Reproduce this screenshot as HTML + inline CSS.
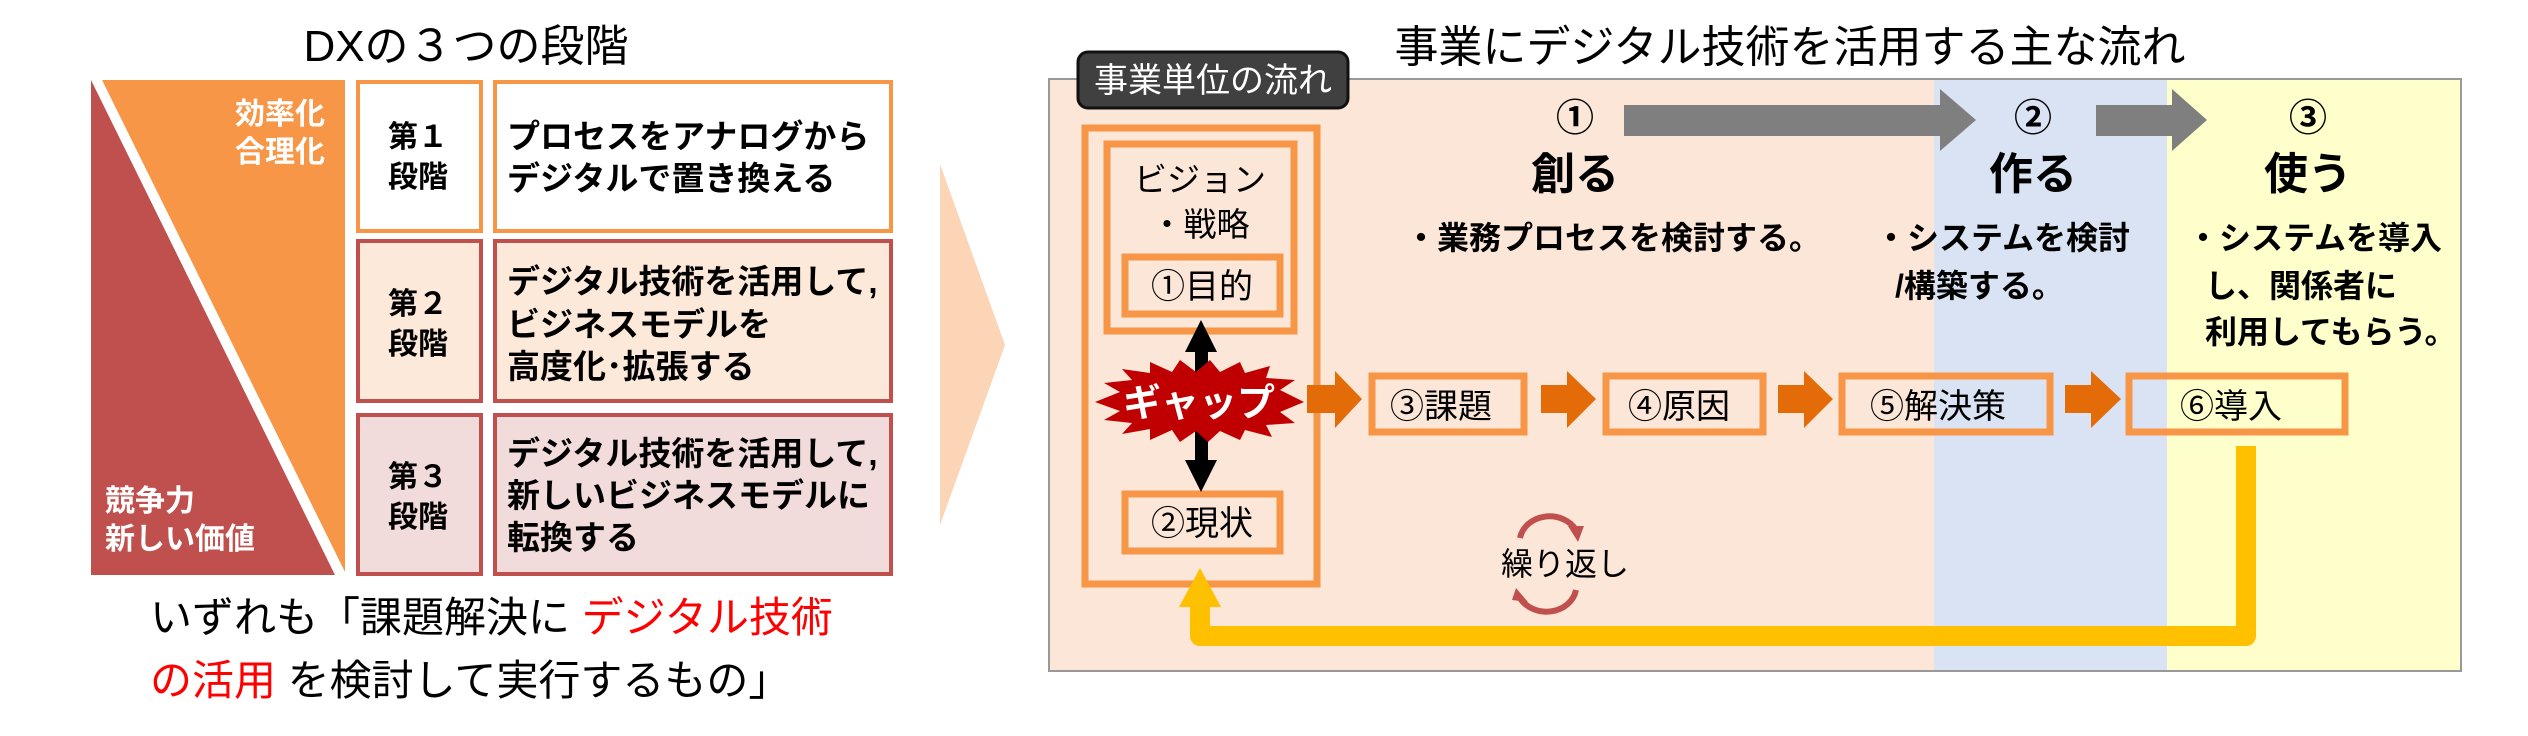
<!DOCTYPE html>
<html><head><meta charset="utf-8"><style>
html,body{margin:0;padding:0;background:#fff;}
svg{display:block;}
text{font-family:"Liberation Sans","Noto Sans CJK JP",sans-serif;}
.b{font-weight:bold;}
</style></head><body>
<svg width="2528" height="736" viewBox="0 0 2528 736" xmlns="http://www.w3.org/2000/svg">
<!-- LEFT -->
<text x="466" y="61" font-size="44" text-anchor="middle" fill="#000">DXの３つの段階</text>
<polygon points="91,80 335,575 91,575" fill="#c0504d"/>
<polygon points="102,80 345,80 345,572" fill="#f79646"/>
<text x="325" y="124" font-size="30" class="b" fill="#fff" text-anchor="end">効率化</text>
<text x="325" y="162" font-size="30" class="b" fill="#fff" text-anchor="end">合理化</text>
<text x="105" y="511" font-size="30" class="b" fill="#fff">競争力</text>
<text x="105" y="549" font-size="30" class="b" fill="#fff">新しい価値</text>

<rect x="358" y="82" width="123" height="149" fill="#fff" stroke="#f79646" stroke-width="4"/>
<rect x="495" y="82" width="396" height="149" fill="#fff" stroke="#f79646" stroke-width="4"/>
<rect x="358" y="241" width="123" height="160" fill="#fde9d9" stroke="#c0504d" stroke-width="4"/>
<rect x="495" y="241" width="396" height="160" fill="#fde9d9" stroke="#c0504d" stroke-width="4"/>
<rect x="358" y="415" width="123" height="159" fill="#f2dcdb" stroke="#c0504d" stroke-width="4"/>
<rect x="495" y="415" width="396" height="159" fill="#f2dcdb" stroke="#c0504d" stroke-width="4"/>

<g font-size="30" class="b" fill="#000" text-anchor="middle">
<text x="418" y="147">第１</text><text x="418" y="187">段階</text>
<text x="418" y="314">第２</text><text x="418" y="354">段階</text>
<text x="418" y="487">第３</text><text x="418" y="527">段階</text>
</g>
<g font-size="33" class="b" fill="#000">
<text x="507" y="148">プロセスをアナログから</text>
<text x="507" y="190">デジタルで置き換える</text>
<text x="507" y="293">デジタル技術を活用して,</text>
<text x="507" y="336">ビジネスモデルを</text>
<text x="507" y="378">高度化･拡張する</text>
<text x="507" y="465">デジタル技術を活用して,</text>
<text x="507" y="507">新しいビジネスモデルに</text>
<text x="507" y="549">転換する</text>
</g>
<text x="150" y="632" font-size="42" fill="#000">いずれも「課題解決に <tspan fill="#ff0000">デジタル技術</tspan></text>
<text x="150" y="695" font-size="42" fill="#ff0000">の活用 <tspan fill="#000">を検討して実行するもの」</tspan></text>

<polygon points="940,164 1005,345 940,525" fill="#fbd5b5"/>

<!-- RIGHT -->
<text x="1790" y="62" font-size="44" text-anchor="middle" fill="#000">事業にデジタル技術を活用する主な流れ</text>
<rect x="1049" y="79" width="885" height="592" fill="#fce6d7"/>
<rect x="1934" y="79" width="233" height="592" fill="#dae3f3"/>
<rect x="2167" y="79" width="294" height="592" fill="#ffffcc"/>
<rect x="1049" y="79" width="1412" height="592" fill="none" stroke="#999" stroke-width="2"/>

<rect x="1078" y="52" width="270" height="56" rx="10" fill="#404040" stroke="#111" stroke-width="3"/>
<text x="1213" y="92" font-size="34" fill="#fff" text-anchor="middle">事業単位の流れ</text>

<rect x="1085" y="128" width="232" height="456" fill="none" stroke="#f79646" stroke-width="7"/>
<rect x="1107" y="144" width="187" height="187" fill="none" stroke="#f79646" stroke-width="7"/>
<text x="1200" y="191" font-size="33" text-anchor="middle" fill="#000">ビジョン</text>
<text x="1200" y="236" font-size="33" text-anchor="middle" fill="#000">・戦略</text>
<rect x="1125" y="257" width="155" height="57" fill="none" stroke="#f79646" stroke-width="7"/>
<text x="1202" y="298" font-size="34" text-anchor="middle" fill="#000">①目的</text>
<rect x="1125" y="494" width="155" height="57" fill="none" stroke="#f79646" stroke-width="7"/>
<text x="1202" y="535" font-size="34" text-anchor="middle" fill="#000">②現状</text>

<!-- double arrow -->
<rect x="1195" y="350" width="13" height="110" fill="#000"/>
<polygon points="1201,320 1217,352 1185,352" fill="#000"/>
<polygon points="1201,492 1217,460 1185,460" fill="#000"/>
<!-- starburst -->
<polygon points="1095,402 1120,392 1104,383 1132,380 1122,369 1150,373 1150,362 1172,372 1180,360 1196,372 1210,360 1220,372 1240,362 1245,373 1270,366 1266,378 1295,380 1280,390 1304,402 1280,412 1295,423 1266,425 1272,437 1245,430 1240,440 1220,431 1208,442 1196,431 1180,442 1172,430 1150,440 1150,429 1122,434 1132,423 1104,420 1120,411" fill="#c00000"/>
<text x="1199" y="416" font-size="38" class="b" text-anchor="middle" fill="#fff">ギャップ</text>

<!-- top flow -->
<g fill="#7f7f7f">
<rect x="1624" y="105" width="320" height="31"/><polygon points="1940,89 1976,120 1940,151"/>
<rect x="2096" y="105" width="80" height="31"/><polygon points="2172,89 2207,120 2172,151"/>
</g>
<g font-size="38" class="b" text-anchor="middle" fill="#000">
<text x="1575" y="131">①</text><text x="2033" y="131">②</text><text x="2308" y="131">③</text>
</g>
<g font-size="44" class="b" text-anchor="middle" fill="#000">
<text x="1575" y="189">創る</text><text x="2033" y="189">作る</text><text x="2308" y="189">使う</text>
</g>
<g font-size="32" class="b" fill="#000">
<text x="1405" y="249">・業務プロセスを検討する。</text>
<text x="1875" y="249">・システムを検討</text>
<text x="1895" y="297">/構築する。</text>
<text x="2187" y="249">・システムを導入</text>
<text x="2205" y="297">し、関係者に</text>
<text x="2205" y="343">利用してもらう。</text>
</g>

<!-- row boxes -->
<g fill="none" stroke="#f79646" stroke-width="7">
<rect x="1372" y="376" width="152" height="56"/>
<rect x="1606" y="376" width="157" height="56"/>
<rect x="1842" y="376" width="208" height="56"/>
<rect x="2129" y="376" width="216" height="56"/>
</g>
<g font-size="34" fill="#000">
<text x="1390" y="418">③課題</text>
<text x="1628" y="418">④原因</text>
<text x="1870" y="418">⑤解決策</text>
<text x="2180" y="418">⑥導入</text>
</g>
<g fill="#e36c09">
<rect x="1307" y="385" width="30" height="28"/><polygon points="1335,371 1362,399 1335,428"/>
<rect x="1541" y="385" width="28" height="28"/><polygon points="1567,371 1596,399 1567,428"/>
<rect x="1778" y="385" width="28" height="28"/><polygon points="1804,371 1833,399 1804,428"/>
<rect x="2065" y="385" width="28" height="28"/><polygon points="2091,371 2121,399 2091,428"/>
</g>

<!-- yellow return -->
<path d="M2246,446 L2246,636 L1200,636 L1200,604" fill="none" stroke="#ffc000" stroke-width="20" stroke-linejoin="round"/>
<polygon points="1200,568 1221,607 1179,607" fill="#ffc000"/>

<!-- repeat -->
<path d="M1520,538 A30,26 0 0 1 1576,530" fill="none" stroke="#c0504d" stroke-width="6"/>
<polygon points="1568,526 1584,526 1578,542" fill="#c0504d"/>
<path d="M1576,590 A30,26 0 0 1 1520,598" fill="none" stroke="#c0504d" stroke-width="6"/>
<polygon points="1512,600 1528,602 1516,588" fill="#c0504d"/>
<text x="1565" y="575" font-size="32" text-anchor="middle" fill="#000">繰り返し</text>
</svg>
</body></html>
